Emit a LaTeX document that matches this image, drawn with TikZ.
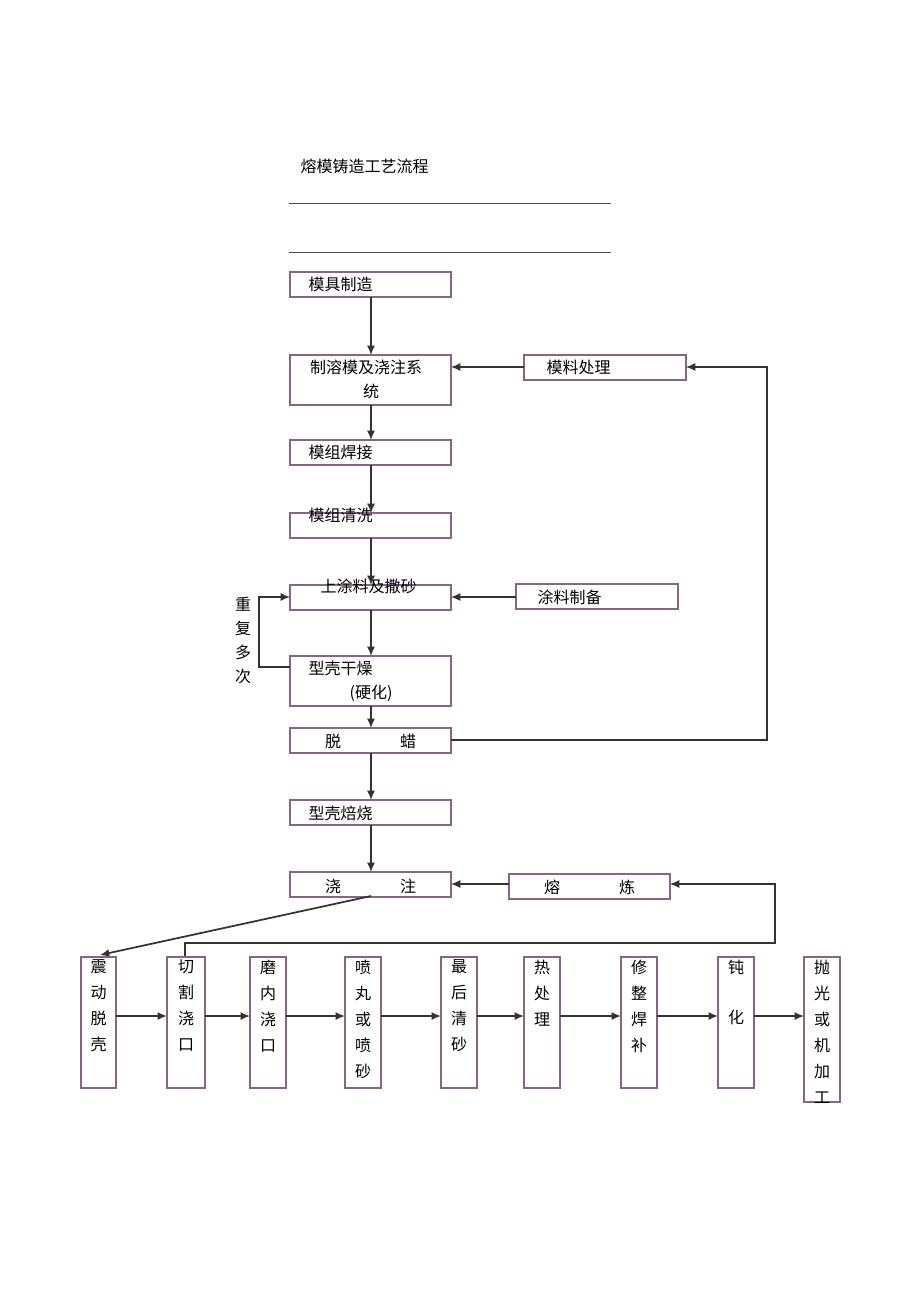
\documentclass[tikz,border=0pt]{standalone}
\usepackage{fontspec}
\newfontfamily\cjk{Noto Sans CJK SC}
\usetikzlibrary{arrows,arrows.meta}
\begin{document}
\begin{tikzpicture}[x=0.75pt,y=-0.75pt,>=latex,font=\cjk\fontsize{12}{15}\selectfont,
  box/.style={draw=black!60!violet!60,line width=0.8pt},
  flow/.style={-{Latex[length=7pt,width=6pt]},line width=1pt,black!80},
  col/.style={anchor=north,align=center,inner sep=2pt,font=\cjk\fontsize{12}{19.5}\selectfont}]
  \useasboundingbox (0,0) rectangle (920,1303);

  % title
  \node[anchor=west] (title) at (296,166) {熔模铸造工艺流程};
  \draw[black!70] (289,203) -- (611,203);
  \draw[black!70] (289,252) -- (611,252);

  % main column
  \draw[box] (290,272) rectangle (451,297);
  \node[anchor=west] (t1) at (304,284) {模具制造};
  \draw[box] (290,355) rectangle (451,405);
  \node (t2) at (366,367) {制溶模及浇注系};
  \node (t2b) at (371,391) {统};
  \draw[box] (524,355) rectangle (686,380);
  \node[anchor=west] (t3) at (542,367) {模料处理};
  \draw[box] (290,440) rectangle (451,465);
  \node[anchor=west] (t4) at (304,452) {模组焊接};
  \draw[box] (290,513) rectangle (451,538);
  \node[anchor=west] (t5) at (304,515) {模组清洗};
  \draw[box] (290,585) rectangle (451,610);
  \node[anchor=west] (t6) at (316,586) {上涂料及撒砂};
  \draw[box] (516,584) rectangle (678,609);
  \node[anchor=west] (t7) at (533,597) {涂料制备};
  \draw[box] (290,656) rectangle (451,706);
  \node[anchor=west] (t8) at (304,668) {型壳干燥};
  \node[anchor=west] (t8b) at (345,693) {(硬化)};
  \draw[box] (290,728) rectangle (451,753);
  \node (t9a) at (333,741) {脱}; \node (t9b) at (408,741) {蜡};
  \draw[box] (290,800) rectangle (451,825);
  \node[anchor=west] (t10) at (304,813) {型壳焙烧};
  \draw[box] (290,872) rectangle (451,897);
  \node (t11a) at (333,886) {浇}; \node (t11b) at (408,886) {注};
  \draw[box] (509,874) rectangle (670,899);
  \node (t12a) at (552,887) {熔}; \node (t12b) at (627,887) {炼};

  % vertical flow
  \foreach \a/\b in {297/355,405/440,465/513,538/585,610/656,706/728,753/800,825/872}
    \draw[flow] (371,\a) -- (371,\b);
  \draw[flow] (524,367) -- (451,367);
  \draw[flow] (516,597) -- (451,597);
  \draw[flow] (509,884) -- (451,884);

  % repeat loop
  \draw[flow] (290,667) -- (259,667) -- (259,597) -- (290,597);
  \foreach \c [count=\i] in {重,复,多,次}
    \node (r\i) at (243,580+24*\i) {\c};

  % return lines
  \draw[flow,line width=0.8pt] (451,740) -- (767,740) -- (767,367) -- (686,367);
  \draw[flow,line width=0.8pt] (185,957) -- (185,943) -- (775,943) -- (775,884) -- (670,884);
  \draw[flow,line width=1.3pt] (371,896) -- (100,955);

  % bottom row
  \foreach \x/\w/\txt [count=\i] in {81/35/{震\\动\\脱\\壳},167/38/{切\\割\\浇\\口},250/36/{磨\\内\\浇\\口},345/36/{喷\\丸\\或\\喷\\砂},441/36/{最\\后\\清\\砂},524/36/{热\\处\\理},621/36/{修\\整\\焊\\补},718/36/{钝\\[18pt]化},804/36/{抛\\光\\或\\机\\加\\工}}{
    \ifnum\i=9
      \draw[box] (\x,957) rectangle (\x+\w,1102);
    \else
      \draw[box] (\x,957) rectangle (\x+\w,1088);
    \fi
    \coordinate (b\i w) at (\x,1016);
    \coordinate (b\i e) at (\x+\w,1016);
    \node[col] (b\i) at (\x+\w/2,957) {\txt};
  }
  \foreach \i [evaluate=\i as \j using int(\i+1)] in {1,...,8}
    \draw[flow,line width=1.3pt] (b\i e) -- (b\j w);
\end{tikzpicture}
\end{document}
